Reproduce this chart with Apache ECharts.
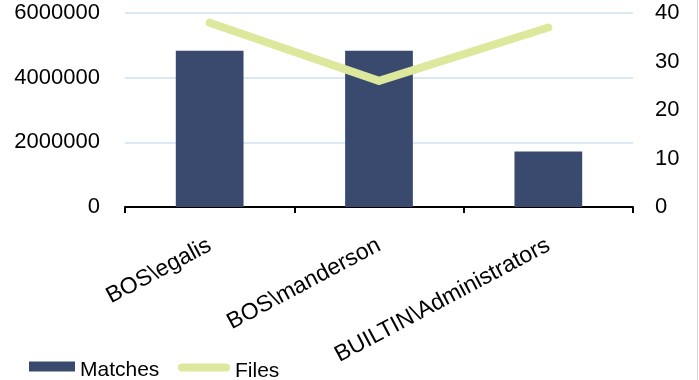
<!DOCTYPE html>
<html>
<head>
<meta charset="utf-8">
<script src="https://cdn.jsdelivr.net/npm/echarts@6/dist/echarts.min.js"></script>
<style>
  html, body { margin: 0; padding: 0; background: #ffffff; }
  #chart { width: 699px; height: 380px; }
</style>
</head>
<body>
<div id="chart"></div>
<script>
// Account names on the category axis
const categories = ['BOS\\egalis', 'BOS\\manderson', 'BUILTIN\\Administrators'];
// Number of matches per account (left axis)
const matches = [4830000, 4830000, 1720000];
// Number of files per account (right axis)
const files = [38, 26, 37];
// Axis ranges
const leftTicks = { min: 0, max: 6000000, interval: 2000000 };
const rightTicks = { min: 0, max: 40, interval: 10 };

const FONT = "'Liberation Sans', Arial, sans-serif";
const BAR_COLOR = '#3a4a6f';
const LINE_COLOR = '#dde89c';

// Legend swatches: the visible shape sits in the upper part of the icon box
// (the trailing zero-area subpath only extends the box), so the swatch
// rides slightly above the text's middle.
const ICON_MATCHES = 'path://M0,0 L46,0 L46,10 L0,10 Z M0,18 L0.1,18';
const ICON_FILES = 'path://M4,0 L48,0 A4,4 0 0 1 48,8 L4,8 A4,4 0 0 1 4,0 Z M0,16 L0.1,16';

const chart = echarts.init(document.getElementById('chart'), null, { renderer: 'canvas' });

chart.setOption({
  animation: false,
  backgroundColor: '#ffffff',
  textStyle: { fontFamily: FONT, color: '#000' },
  grid: { left: 125, right: 66, top: 13, bottom: 173, containLabel: false, outerBoundsMode: 'none' },
  legend: [
    {
      data: [{ name: 'Matches', icon: ICON_MATCHES }],
      left: 24, top: 355,
      itemWidth: 46, itemHeight: 18,
      textStyle: { fontSize: 21, color: '#000', fontFamily: FONT }
    },
    {
      data: [{ name: 'Files', icon: ICON_FILES }],
      left: 173, top: 356,
      itemWidth: 52, itemHeight: 16,
      itemStyle: { color: LINE_COLOR },
      textStyle: { fontSize: 21, color: '#000', fontFamily: FONT }
    }
  ],
  xAxis: {
    type: 'category',
    data: categories,
    axisLine: { show: true, lineStyle: { color: '#000', width: 2 } },
    axisTick: { show: true, length: 6, lineStyle: { color: '#000', width: 2 } },
    axisLabel: {
      interval: 0, rotate: 28, margin: 37,
      fontSize: 23, color: '#000', fontFamily: FONT
    },
    splitLine: { show: false }
  },
  yAxis: [
    {
      type: 'value',
      min: leftTicks.min, max: leftTicks.max, interval: leftTicks.interval,
      axisLine: { show: false },
      axisTick: { show: false },
      axisLabel: {
        fontSize: 22, color: '#000', fontFamily: FONT, margin: 25, padding: [10, 0, 0, 0],
        formatter: (v) => String(v)
      },
      splitLine: { show: true, lineStyle: { color: '#dbe9f5', width: 2 } }
    },
    {
      type: 'value',
      min: rightTicks.min, max: rightTicks.max, interval: rightTicks.interval,
      axisLine: { show: false },
      axisTick: { show: false },
      axisLabel: {
        fontSize: 22, color: '#000', fontFamily: FONT, margin: 22, padding: [10, 0, 0, 0],
        formatter: (v) => String(v)
      },
      splitLine: { show: false }
    }
  ],
  series: [
    {
      name: 'Matches',
      type: 'bar',
      data: matches,
      barWidth: '40%',
      itemStyle: { color: BAR_COLOR },
      z: 2
    },
    {
      name: 'Files',
      type: 'line',
      yAxisIndex: 1,
      data: files,
      symbol: 'none',
      showSymbol: false,
      lineStyle: { color: LINE_COLOR, width: 8, cap: 'round', join: 'round' },
      itemStyle: { color: LINE_COLOR },
      z: 3
    }
  ],
  graphic: [
    {
      type: 'line',
      shape: { x1: 697.5, y1: 0, x2: 697.5, y2: 380 },
      style: { stroke: '#d6d6d6', lineWidth: 1 }
    }
  ]
});
</script>
</body>
</html>
